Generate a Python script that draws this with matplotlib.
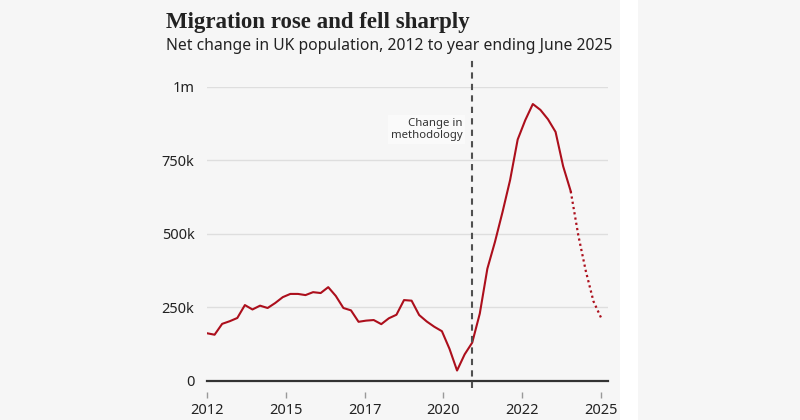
import matplotlib.pyplot as plt
import numpy as np
from matplotlib.patches import Rectangle

# quarterly net change, thousands (2012 Q1 onwards)
start_year = 2012.0
solid_vals = [161, 156, 193, 202, 213, 257, 242, 255, 247, 264, 284, 295, 295, 291, 301,
              298, 318, 288, 247, 239, 200, 204, 206, 192, 212, 224, 274, 272, 223, 201,
              183, 168, 108, 34, 89, 129, 228, 381, 472, 574, 683, 821, 887, 942, 922,
              890, 847, 730, 645]
# provisional estimates (dotted), continuing from the last solid point
dotted_vals = [645, 495, 372, 270, 214]

method_change = 2020.75
y_ticks = [0, 250000, 500000, 750000, 1000000]
y_labels = ["0", "250k", "500k", "750k", "1m"]
x_ticks = list(np.linspace(2012, 2025, 6))
x_labels = ["2012", "2015", "2017", "2020", "2022", "2025"]

bg = "#f6f6f6"
red = "#ac0f1c"

x_solid = start_year + 0.25 * np.arange(len(solid_vals))
x_dotted = x_solid[-1] + 0.25 * np.arange(len(dotted_vals))

fig = plt.figure(figsize=(8, 4.2), dpi=100, facecolor=bg)
fig.patches.append(Rectangle((620 / 800, 0), 18 / 800, 1, transform=fig.transFigure,
                             facecolor="white", edgecolor="none", zorder=0))
ax = fig.add_axes([207 / 800, 1 - 380.5 / 420, 401 / 800, 293.5 / 420])
ax.set_facecolor(bg)

ax.plot(x_solid, np.array(solid_vals) * 1000, color=red, lw=1.5, zorder=3)
ax.plot(x_dotted, np.array(dotted_vals) * 1000, color=red, lw=1.6,
        linestyle=(0, (1, 1.4)), zorder=3)

ax.set_xlim(2012, 2025.23)
ax.set_ylim(0, 1000000)

for y in y_ticks[1:]:
    ax.axhline(y, color="#dedede", lw=1, zorder=1)
ax.axhline(0, color="#333333", lw=1.6, zorder=2, clip_on=False)

ax.axvline(method_change, ymin=-0.027, ymax=1.095, color="#505050", lw=1.5,
           linestyle=(0, (3, 2.5)), clip_on=False, zorder=4)
ax.text(method_change - 0.33, 0.855e6, "Change in\nmethodology", ha="right", va="center",
        fontsize=8.2, color="#333333", family="Noto Sans", linespacing=1.1,
        bbox=dict(facecolor="#fafafa", edgecolor="none", pad=2))

for s in ax.spines.values():
    s.set_visible(False)
ax.spines["bottom"].set_position(("outward", 8))

ax.set_yticks(y_ticks)
ax.set_yticklabels(y_labels)
ax.set_xticks(x_ticks)
ax.set_xticklabels(x_labels)
ax.tick_params(axis="y", length=0, pad=9, labelsize=10.5, labelcolor="#222222")
ax.tick_params(axis="x", length=4, width=1, color="#999999", pad=4, labelsize=10.5,
               labelcolor="#222222")
for lab in ax.get_xticklabels() + ax.get_yticklabels():
    lab.set_family("Noto Sans")

fig.text(166 / 800, 1 - 28 / 420, "Migration rose and fell sharply", fontsize=16.5,
         family="Liberation Serif", weight="bold", color="#222222", va="baseline")
fig.text(166 / 800, 1 - 50 / 420, "Net change in UK population, 2012 to year ending June 2025",
         fontsize=11.3, family="Noto Sans", color="#222222", va="baseline")

fig.savefig("out.png", dpi=100, facecolor=bg)
